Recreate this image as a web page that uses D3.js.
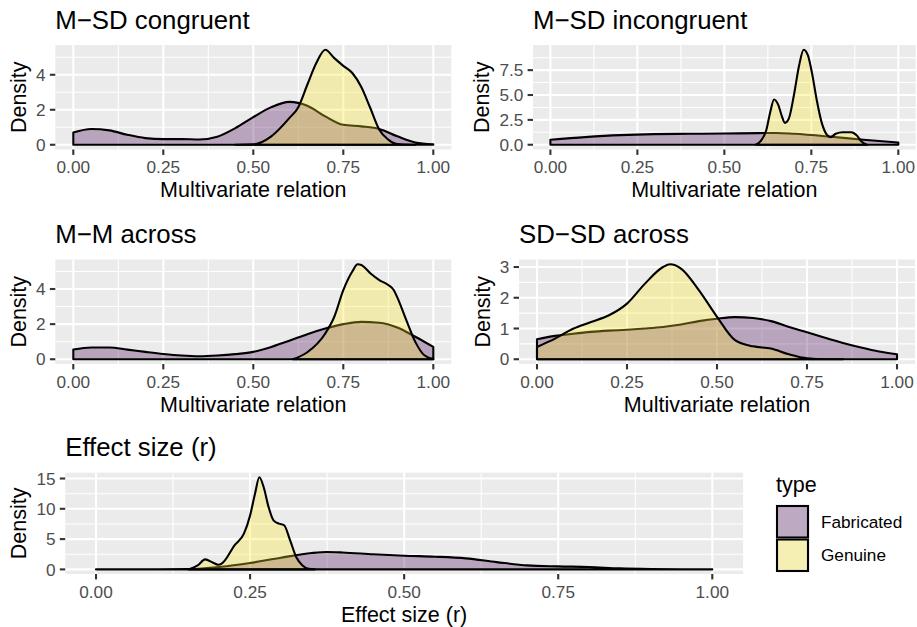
<!DOCTYPE html>
<html lang="en">
<head>
<meta charset="UTF-8">
<title>Density of multivariate relations</title>
<style>
  body { margin: 0; background: #fff; }
  svg { display: block; font-family: "Liberation Sans", Arial, Helvetica, sans-serif; }
</style>
</head>
<body>
<svg id="chart" width="917" height="627"></svg>
<script src="https://cdn.jsdelivr.net/npm/d3@7/dist/d3.min.js"></script>
<script>
// ---- data (x, density) ----
const types = ["Fabricated", "Genuine"];
const xTicks = [0, 0.25, 0.5, 0.75, 1];
const xMinor = [0.125, 0.375, 0.625, 0.875];

// M-SD congruent
const msdCongFabX = [0, 0.05, 0.1, 0.15, 0.2, 0.25, 0.3, 0.35, 0.4, 0.45, 0.5, 0.55, 0.6, 0.65, 0.7, 0.75, 0.8, 0.85, 0.9, 0.95, 1];
const msdCongFabY = [0.70, 0.90, 0.82, 0.57, 0.38, 0.32, 0.32, 0.30, 0.46, 0.95, 1.58, 2.15, 2.45, 2.23, 1.62, 1.14, 1.05, 0.90, 0.48, 0.13, 0.02];
const msdCongGenX = [0.45, 0.5, 0.55, 0.6, 0.625, 0.65, 0.675, 0.7, 0.725, 0.75, 0.775, 0.8, 0.825, 0.85, 0.875, 0.9, 0.95];
const msdCongGenY = [0, 0.02, 0.48, 1.52, 2.15, 3.43, 4.67, 5.43, 4.95, 4.51, 4.10, 3.30, 2.10, 0.86, 0.29, 0.04, 0];

// M-SD incongruent
const msdIncFabX = [0, 0.1, 0.2, 0.3, 0.4, 0.5, 0.6, 0.65, 0.7, 0.8, 0.9, 1];
const msdIncFabY = [0.50, 0.77, 0.97, 1.07, 1.10, 1.13, 1.17, 1.18, 1.10, 0.83, 0.50, 0.23];
const msdIncGenX = [0.59, 0.605, 0.62, 0.632, 0.643, 0.655, 0.665, 0.674, 0.685, 0.7, 0.715, 0.728, 0.74, 0.752, 0.765, 0.78, 0.795, 0.806, 0.82, 0.84, 0.865, 0.88, 0.895, 0.91];
const msdIncGenY = [0, 0.4, 1.4, 3.3, 4.55, 4.0, 2.9, 2.2, 2.6, 5.0, 8.0, 9.55, 9.0, 7.2, 4.6, 2.2, 1.0, 0.77, 1.1, 1.25, 1.25, 0.95, 0.3, 0];

// M-M across
const mmFabX = [0, 0.05, 0.1, 0.15, 0.2, 0.25, 0.3, 0.35, 0.4, 0.45, 0.5, 0.55, 0.6, 0.65, 0.7, 0.75, 0.8, 0.85, 0.9, 0.95, 1];
const mmFabY = [0.55, 0.67, 0.67, 0.55, 0.42, 0.30, 0.21, 0.17, 0.21, 0.29, 0.42, 0.70, 1.05, 1.43, 1.75, 2.00, 2.13, 2.08, 1.81, 1.28, 0.70];
const mmGenX = [0.61, 0.65, 0.7, 0.725, 0.75, 0.775, 0.79, 0.8, 0.825, 0.85, 0.875, 0.89, 0.9, 0.925, 0.95, 0.975, 1];
const mmGenY = [0, 0.40, 1.47, 2.42, 3.94, 5.00, 5.41, 5.37, 4.90, 4.51, 4.23, 3.94, 3.52, 2.23, 0.99, 0.23, 0.02];

// SD-SD across
const sdFabX = [0, 0.05, 0.1, 0.15, 0.2, 0.25, 0.3, 0.35, 0.4, 0.45, 0.5, 0.55, 0.6, 0.65, 0.7, 0.75, 0.8, 0.85, 0.9, 0.95, 1];
const sdFabY = [0.65, 0.76, 0.83, 0.89, 0.93, 0.96, 1.00, 1.05, 1.13, 1.24, 1.32, 1.37, 1.34, 1.24, 1.05, 0.88, 0.70, 0.53, 0.38, 0.25, 0.16];
const sdGenX = [0, 0.05, 0.1, 0.15, 0.2, 0.25, 0.3, 0.35, 0.37, 0.4, 0.45, 0.5, 0.55, 0.6, 0.65, 0.7, 0.75, 0.8, 0.85];
const sdGenY = [0.40, 0.67, 0.99, 1.21, 1.43, 1.81, 2.46, 3.00, 3.09, 2.95, 2.24, 1.38, 0.62, 0.42, 0.35, 0.16, 0.03, 0, 0];

// Effect size (r)
const esFabX = [0, 0.1, 0.15, 0.2, 0.25, 0.3, 0.35, 0.375, 0.4, 0.45, 0.5, 0.55, 0.6, 0.65, 0.7, 0.75, 0.8, 0.85, 0.9, 0.95, 1];
const esFabY = [0, 0.01, 0.05, 0.40, 1.05, 1.93, 2.70, 2.87, 2.80, 2.50, 2.26, 2.10, 1.82, 1.20, 0.66, 0.50, 0.39, 0.17, 0.06, 0.02, 0];
const esGenX = [0.15, 0.165, 0.177, 0.19, 0.198, 0.205, 0.225, 0.24, 0.25, 0.258, 0.265, 0.272, 0.28, 0.288, 0.297, 0.305, 0.315, 0.325, 0.335, 0.345, 0.355];
const esGenY = [0, 0.66, 1.65, 1.10, 0.77, 1.05, 4.0, 5.9, 8.9, 12.5, 15.2, 13.6, 10.3, 8.1, 7.55, 7.3, 4.8, 2.0, 0.66, 0.1, 0];

// ---- layout ----
const fillCol = { Fabricated: "#440154", Genuine: "#FDE725" };
const panels = [
  { title: "M\u2212SD congruent", xlab: "Multivariate relation",
    fab: [msdCongFabX, msdCongFabY], gen: [msdCongGenX, msdCongGenY],
    yTicks: [0, 2, 4], yLabels: ["0", "2", "4"], yMinor: [1, 3, 5],
    left: 55.3, right: 451.3, top: 45, bottom: 149.5 },
  { title: "M\u2212SD incongruent", xlab: "Multivariate relation",
    fab: [msdIncFabX, msdIncFabY], gen: [msdIncGenX, msdIncGenY],
    yTicks: [0, 2.5, 5, 7.5], yLabels: ["0.0", "2.5", "5.0", "7.5"], yMinor: [1.25, 3.75, 6.25, 8.75],
    left: 533, right: 915.7, top: 45, bottom: 149.5 },
  { title: "M\u2212M across", xlab: "Multivariate relation",
    fab: [mmFabX, mmFabY], gen: [mmGenX, mmGenY],
    yTicks: [0, 2, 4], yLabels: ["0", "2", "4"], yMinor: [1, 3, 5],
    left: 55.3, right: 451.3, top: 259.5, bottom: 364 },
  { title: "SD\u2212SD across", xlab: "Multivariate relation",
    fab: [sdFabX, sdFabY], gen: [sdGenX, sdGenY],
    yTicks: [0, 1, 2, 3], yLabels: ["0", "1", "2", "3"], yMinor: [0.5, 1.5, 2.5],
    left: 519, right: 915, top: 259.5, bottom: 364 },
  { title: "Effect size (r)", xlab: "Effect size (r)",
    fab: [esFabX, esFabY], gen: [esGenX, esGenY],
    yTicks: [0, 5, 10, 15], yLabels: ["0", "5", "10", "15"], yMinor: [2.5, 7.5, 12.5],
    left: 65.2, right: 743.1, top: 472.7, bottom: 574 }
];

const svg = d3.select("#chart");
svg.append("rect").attr("width", 917).attr("height", 627).attr("fill", "#fff");

const tickLen = 5.4;
const lw = 2.09;

panels.forEach(p => {
  const g = svg.append("g");
  const xs = d3.extent([...p.fab[0], ...p.gen[0]]);
  const xPad = (xs[1] - xs[0]) * 0.05;
  const x = d3.scaleLinear().domain([xs[0] - xPad, xs[1] + xPad]).range([p.left, p.right]);
  const ymax = d3.max([...p.fab[1], ...p.gen[1]]);
  const y = d3.scaleLinear().domain([-0.05 * ymax, 1.05 * ymax]).range([p.bottom, p.top]);

  g.append("rect")
    .attr("x", p.left).attr("y", p.top)
    .attr("width", p.right - p.left).attr("height", p.bottom - p.top)
    .attr("fill", "#EBEBEB");

  // grid
  const grid = g.append("g").attr("stroke", "#fff");
  grid.selectAll(".xmin").data(xMinor).join("line")
    .attr("x1", d => x(d)).attr("x2", d => x(d)).attr("y1", p.top).attr("y2", p.bottom)
    .attr("stroke-width", lw / 2);
  grid.selectAll(".ymin").data(p.yMinor.filter(v => y(v) >= p.top)).join("line")
    .attr("y1", d => y(d)).attr("y2", d => y(d)).attr("x1", p.left).attr("x2", p.right)
    .attr("stroke-width", lw / 2);
  grid.selectAll(".xmaj").data(xTicks).join("line")
    .attr("x1", d => x(d)).attr("x2", d => x(d)).attr("y1", p.top).attr("y2", p.bottom)
    .attr("stroke-width", lw);
  grid.selectAll(".ymaj").data(p.yTicks).join("line")
    .attr("y1", d => y(d)).attr("y2", d => y(d)).attr("x1", p.left).attr("x2", p.right)
    .attr("stroke-width", lw);

  // densities
  const area = d3.area()
    .x(d => x(d[0])).y0(y(0)).y1(d => y(d[1]))
    .curve(d3.curveMonotoneX);
  [["Fabricated", p.fab], ["Genuine", p.gen]].forEach(([t, s]) => {
    const pts = s[0].map((v, i) => [v, s[1][i]]);
    g.append("path")
      .datum(pts)
      .attr("d", area)
      .attr("fill", fillCol[t]).attr("fill-opacity", 0.3)
      .attr("stroke", "#000").attr("stroke-width", lw)
      .attr("stroke-linejoin", "round");
  });

  // x axis
  g.selectAll(".xt").data(xTicks).join("line")
    .attr("x1", d => x(d)).attr("x2", d => x(d))
    .attr("y1", p.bottom).attr("y2", p.bottom + tickLen)
    .attr("stroke", "#333").attr("stroke-width", lw);
  g.selectAll(".xl").data(xTicks).join("text")
    .attr("x", d => x(d)).attr("y", p.bottom + 23.5)
    .attr("text-anchor", "middle").attr("font-size", 17.2).attr("fill", "#4D4D4D")
    .text(d => d3.format(".2f")(d));

  // y axis
  g.selectAll(".yt").data(p.yTicks).join("line")
    .attr("y1", d => y(d)).attr("y2", d => y(d))
    .attr("x1", p.left - tickLen).attr("x2", p.left)
    .attr("stroke", "#333").attr("stroke-width", lw);
  const yl = g.append("g");
  yl.selectAll("text").data(p.yTicks).join("text")
    .attr("x", p.left - tickLen - 4.3).attr("y", d => y(d))
    .attr("dy", "0.36em")
    .attr("text-anchor", "end").attr("font-size", 17.2).attr("fill", "#4D4D4D")
    .text((d, i) => p.yLabels[i]);
  const bb = yl.node().getBBox();

  g.append("text")
    .attr("transform", `translate(${bb.x - 5.4 - 4.5},${(p.top + p.bottom) / 2}) rotate(-90)`)
    .attr("text-anchor", "middle").attr("font-size", 21.5).attr("fill", "#000")
    .text("Density");

  g.append("text")
    .attr("x", (p.left + p.right) / 2).attr("y", p.bottom + 47.5)
    .attr("text-anchor", "middle").attr("font-size", 21.5).attr("fill", "#000")
    .text(p.xlab);

  g.append("text")
    .attr("x", p.left).attr("y", p.top - 16.5)
    .attr("font-size", 25.8).attr("fill", "#000")
    .text(p.title);
});

// legend
const leg = svg.append("g").attr("transform", "translate(776,0)");
leg.append("text").attr("x", 0).attr("y", 492).attr("font-size", 21.5).text("type");
const keySize = 33.5;
leg.selectAll("g.key").data(types).join("g")
  .attr("class", "key")
  .attr("transform", (d, i) => `translate(0,${505 + i * keySize})`)
  .each(function (d) {
    const k = d3.select(this);
    k.append("rect").attr("width", keySize).attr("height", keySize).attr("fill", "#F2F2F2");
    k.append("rect").attr("x", 1).attr("y", 1)
      .attr("width", keySize - 2.5).attr("height", keySize - 2)
      .attr("fill", fillCol[d]).attr("fill-opacity", 0.3)
      .attr("stroke", "#000").attr("stroke-width", lw);
    k.append("text").attr("x", 45).attr("y", keySize / 2).attr("dy", "0.36em")
      .attr("font-size", 17.2).text(d);
  });
</script>
</body>
</html>
